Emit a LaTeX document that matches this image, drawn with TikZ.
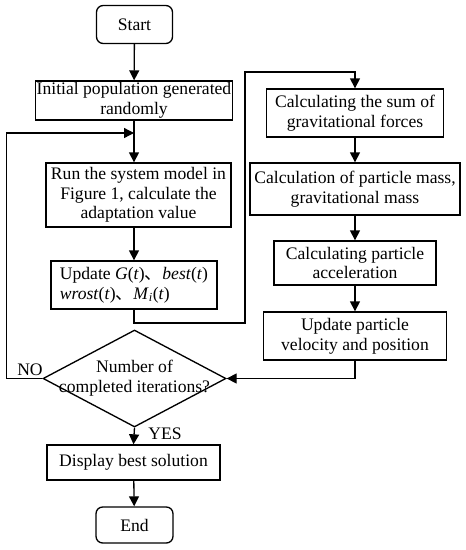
\documentclass[tikz,border=0pt]{standalone}
\usepackage{fontspec}
\setmainfont{Liberation Serif}
\newfontfamily\cjk{Noto Sans CJK SC}
\usetikzlibrary{shapes.geometric,arrows.meta}
\begin{document}
\begin{tikzpicture}[x=0.75pt,y=-0.75pt,
 every node/.style={font=\fontsize{13.2}{14.8}\selectfont},
 box/.style={draw,line width=1pt,align=center,inner sep=1pt},
 term/.style={box,rounded corners=5pt},
 arr/.style={line width=1pt,-{Triangle[length=7.5pt,width=7.5pt]}},
 ln/.style={line width=1pt}]
\useasboundingbox (0,0) rectangle (465,550);
\node[term,minimum width=57pt,minimum height=28.5pt] (start) at (134.5,24.5) {Start};
\node[box,minimum width=147pt,minimum height=29.25pt] (init) at (134,100.5) {Initial population generated\\randomly};
\node[box,minimum width=138.75pt,minimum height=48pt] (run) at (138.5,195) {Run the system model in\\Figure 1, calculate the\\adaptation value};
\node[box,align=left,minimum width=124.5pt,minimum height=36pt] (update) at (134,285) {Update \textit{G}(\textit{t}){\cjk 、}\textit{best}(\textit{t})\\\textit{wrost}(\textit{t}){\cjk 、}\textit{M}\textsubscript{\textit{i}}(\textit{t})};
\node[draw,line width=1pt,diamond,inner sep=0pt,minimum width=137.25pt,minimum height=72.75pt,
  label={[align=center]center:Number of\\completed iterations?}] (dia) at (134.5,378.5) {};
\node[box,minimum width=129.75pt,minimum height=26.25pt] (disp) at (133.5,462.5) {Display best solution};
\node[term,minimum width=57.75pt,minimum height=27pt] (end) at (134.5,525) {End};
\node[box,minimum width=132.75pt,minimum height=36pt] (sum) at (355,113) {Calculating the sum of\\gravitational forces};
\node[box,minimum width=157.5pt,minimum height=39pt] (mass) at (355,189) {Calculation of particle mass,\\gravitational mass};
\node[box,minimum width=121.5pt,minimum height=33pt] (accel) at (355,263) {Calculating particle\\acceleration};
\node[box,minimum width=137.25pt,minimum height=36pt] (vel) at (355,336) {Update particle\\velocity and position};
\node (no) at (30,370) {NO};
\node (yes) at (165,434) {YES};
\coordinate (lp) at (134,133);
\coordinate (c1) at (245,323);
\coordinate (c2) at (245,72);
\draw[arr] (start) -- (init);
\draw[arr] (init.south) -- (init.south |- run.north);
\draw[arr] (dia.west) -- ++(-36,0) |- (lp);
\draw[arr] (update.north |- run.south) -- (update.north);
\draw[arr] (update.south) |- (c1) -- (c2) -| (sum.north);
\draw[arr] (sum) -- (mass);
\draw[arr] (mass) -- (accel);
\draw[arr] (accel) -- (vel);
\draw[arr] (vel.south) |- (dia.east);
\draw[arr] (dia.south) -- (disp.north);
\draw[arr] (disp) -- (end);
\end{tikzpicture}
\end{document}
